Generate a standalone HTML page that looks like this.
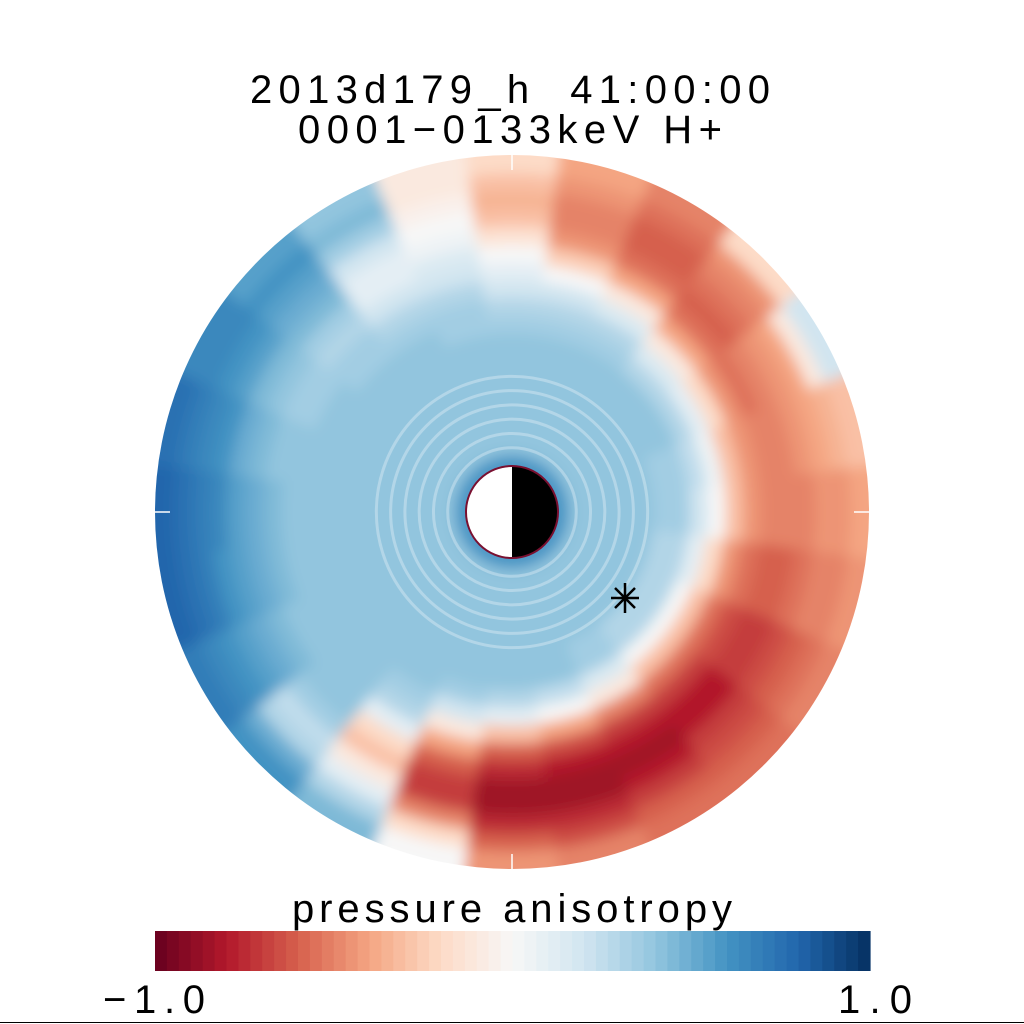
<!DOCTYPE html>
<html><head><meta charset="utf-8">
<style>
html,body{margin:0;padding:0;background:#fff;}
svg{display:block;}
text{font-family:"Liberation Sans",sans-serif;white-space:pre;}
</style></head>
<body>
<svg id="chart" width="1024" height="1024" viewBox="0 0 1024 1024" xmlns="http://www.w3.org/2000/svg">
<defs>
<clipPath id="disk"><circle cx="512" cy="512" r="357"/></clipPath>
<filter id="soft" x="-10%" y="-10%" width="120%" height="120%"><feGaussianBlur stdDeviation="7"/></filter>
</defs>
<rect width="1024" height="1024" fill="#fff"/>
<text x="250" y="103" textLength="520" lengthAdjust="spacing" font-size="40" fill="#000">2013d179_h  41:00:00</text>
<text x="298" y="143" textLength="424" lengthAdjust="spacing" font-size="40" fill="#000">0001−0133keV H+</text>
<g clip-path="url(#disk)"><g id="heat" filter="url(#soft)"></g></g>
<g id="rings"></g>
<g>
<path d="M512,466 A46,46 0 0,0 512,558 Z" fill="#fff"/>
<path d="M512,466 A46,46 0 0,1 512,558 Z" fill="#000"/>
<circle cx="512" cy="512" r="46" fill="none" stroke="#7a1030" stroke-width="2"/>
</g>
<g stroke="#000" stroke-width="2.5">
<line x1="625" y1="583" x2="625" y2="613"/><line x1="611" y1="598" x2="639" y2="598"/>
<line x1="615" y1="588" x2="635" y2="608"/><line x1="635" y1="588" x2="615" y2="608"/>
</g>
<g stroke="#fff" stroke-width="1.5">
<line x1="512" y1="155" x2="512" y2="170"/><line x1="512" y1="854" x2="512" y2="869"/>
<line x1="155" y1="512" x2="170" y2="512"/><line x1="854" y1="512" x2="869" y2="512"/>
</g>
<text x="292" y="922" textLength="440" lengthAdjust="spacing" font-size="40" fill="#000">pressure anisotropy</text>
<g id="cbar"></g>
<text x="103" y="1013" textLength="102" lengthAdjust="spacing" font-size="40" fill="#000">−1.0</text>
<text x="838" y="1013" textLength="74" lengthAdjust="spacing" font-size="40" fill="#000">1.0</text>
<line x1="0" y1="1022.5" x2="1024" y2="1022.5" stroke="#000" stroke-width="1"/>
</svg>
<script>
const sectorAngles=[0,15,30,45,60,75,90,105,120,135,150,165,180,195,210,225,240,255,270,285,300,315,330,345];
const ringEdges=[0.10,0.16,0.3,0.4,0.5,0.55,0.6,0.65,0.7,0.75,0.8,0.85,0.9,0.95,1.06];
const anisotropy=[
[0.6,0.4,0.4,0.35,0.2,0.0,-0.3,-0.45,-0.5,-0.5,-0.5,-0.45,-0.45,-0.4],
[0.6,0.4,0.4,0.35,0.25,0.05,-0.3,-0.45,-0.5,-0.5,-0.45,-0.4,-0.35,-0.3],
[0.6,0.4,0.4,0.4,0.3,0.1,-0.2,-0.45,-0.55,-0.5,-0.45,-0.4,-0.1,0.2],
[0.6,0.4,0.4,0.4,0.3,0.15,-0.1,-0.4,-0.55,-0.6,-0.55,-0.5,-0.45,-0.2],
[0.6,0.4,0.4,0.4,0.35,0.3,0.15,-0.1,-0.4,-0.55,-0.6,-0.6,-0.55,-0.5],
[0.6,0.4,0.4,0.4,0.35,0.3,0.2,0.0,-0.25,-0.45,-0.5,-0.5,-0.45,-0.4],
[0.6,0.4,0.4,0.4,0.35,0.3,0.2,0.1,0.0,-0.15,-0.3,-0.35,-0.3,-0.2],
[0.6,0.4,0.4,0.4,0.35,0.35,0.3,0.2,0.15,0.05,0.0,-0.05,-0.1,-0.1],
[0.6,0.4,0.4,0.4,0.4,0.35,0.3,0.2,0.1,0.1,0.2,0.35,0.45,0.4],
[0.6,0.4,0.4,0.4,0.4,0.35,0.35,0.3,0.35,0.45,0.5,0.55,0.6,0.55],
[0.6,0.4,0.4,0.4,0.4,0.4,0.35,0.35,0.4,0.45,0.55,0.6,0.65,0.65],
[0.6,0.4,0.4,0.4,0.4,0.4,0.4,0.4,0.45,0.5,0.6,0.65,0.7,0.75],
[0.6,0.4,0.4,0.4,0.4,0.4,0.4,0.45,0.5,0.55,0.65,0.7,0.75,0.8],
[0.6,0.4,0.4,0.4,0.4,0.4,0.4,0.45,0.5,0.55,0.6,0.7,0.75,0.8],
[0.6,0.4,0.4,0.4,0.4,0.4,0.4,0.4,0.45,0.5,0.55,0.6,0.65,0.7],
[0.6,0.4,0.4,0.4,0.4,0.4,0.4,0.4,0.4,0.35,0.25,0.3,0.5,0.6],
[0.6,0.4,0.4,0.4,0.4,0.35,0.3,0.1,-0.2,-0.3,-0.1,0.1,0.3,0.45],
[0.6,0.4,0.4,0.4,0.35,0.2,-0.1,-0.4,-0.6,-0.7,-0.7,-0.5,-0.2,0.0],
[0.6,0.4,0.4,0.4,0.3,0.1,-0.3,-0.6,-0.75,-0.85,-0.85,-0.75,-0.6,-0.45],
[0.6,0.4,0.4,0.4,0.25,0.0,-0.4,-0.65,-0.8,-0.85,-0.85,-0.75,-0.65,-0.5],
[0.6,0.4,0.4,0.35,0.15,-0.1,-0.5,-0.7,-0.8,-0.85,-0.8,-0.7,-0.6,-0.55],
[0.6,0.4,0.4,0.3,0.0,-0.3,-0.55,-0.7,-0.8,-0.8,-0.7,-0.65,-0.6,-0.55],
[0.6,0.4,0.4,0.3,0.0,-0.3,-0.55,-0.65,-0.7,-0.7,-0.65,-0.6,-0.55,-0.5],
[0.6,0.4,0.4,0.3,0.1,-0.2,-0.45,-0.55,-0.6,-0.6,-0.55,-0.5,-0.5,-0.45]
];
const colorbarLevels=60;
const valueMin=-1, valueMax=1;

const CX=512, CY=512, R=357;
const stops=["#67001f","#b2182b","#d6604d","#f4a582","#fddbc7","#f7f7f7","#d1e5f0","#92c5de","#4393c3","#2166ac","#053061"];
function hex(h){return [1,3,5].map(i=>parseInt(h.substr(i,2),16));}
function color(v){
  let t=(v-valueMin)/(valueMax-valueMin); t=Math.max(0,Math.min(1,t));
  const p=t*(stops.length-1), i=Math.min(stops.length-2,Math.floor(p)), f=p-i;
  const a=hex(stops[i]), b=hex(stops[i+1]);
  return "rgb("+a.map((x,k)=>Math.round(x+(b[k]-x)*f)).join(",")+")";
}
const rScale=r=>r*R;
function pt(rad,deg){const a=deg*Math.PI/180;return [CX+rad*Math.cos(a), CY-rad*Math.sin(a)];}
const NS="http://www.w3.org/2000/svg";
const heat=document.getElementById("heat");
const step=360/sectorAngles.length;
sectorAngles.forEach((ang,si)=>{
  for(let ri=0;ri<ringEdges.length-1;ri++){
    const r0=rScale(ringEdges[ri]), r1=rScale(ringEdges[ri+1]);
    const a0=ang-step/2, a1=ang+step/2;
    const p1=pt(r0,a0),p2=pt(r1,a0),p3=pt(r1,a1),p4=pt(r0,a1);
    const d=`M${p1} L${p2} A${r1},${r1} 0 0,0 ${p3} L${p4} A${r0},${r0} 0 0,1 ${p1} Z`;
    const el=document.createElementNS(NS,"path");
    
    
    const c=color(anisotropy[si][ri]);
    el.setAttribute("d",d);el.setAttribute("fill",c);el.setAttribute("stroke",c);el.setAttribute("stroke-width","1");
    heat.appendChild(el);
  }
});
const rings=document.getElementById("rings");
[0.18,0.22,0.26,0.3,0.34,0.38].forEach(fr=>{
  const c=document.createElementNS(NS,"circle");
  
  
  c.setAttribute("cx",CX);c.setAttribute("cy",CY);c.setAttribute("r",fr*R);
  c.setAttribute("fill","none");c.setAttribute("stroke","rgba(255,255,255,0.3)");c.setAttribute("stroke-width","3");
  rings.appendChild(c);
});
const cbar=document.getElementById("cbar");
const cbX0=155, cbX1=870, cbY=931, cbH=40;
for(let i=0;i<colorbarLevels;i++){
  const v=valueMin+(i+0.5)*(valueMax-valueMin)/colorbarLevels;
  const x=cbX0+i*(cbX1-cbX0)/colorbarLevels;
  const el=document.createElementNS(NS,"rect");
  
  
  el.setAttribute("x",x);el.setAttribute("y",cbY);el.setAttribute("width",(cbX1-cbX0)/colorbarLevels+0.6);el.setAttribute("height",cbH);
  el.setAttribute("fill",color(v));
  cbar.appendChild(el);
}
</script>
</body></html>
